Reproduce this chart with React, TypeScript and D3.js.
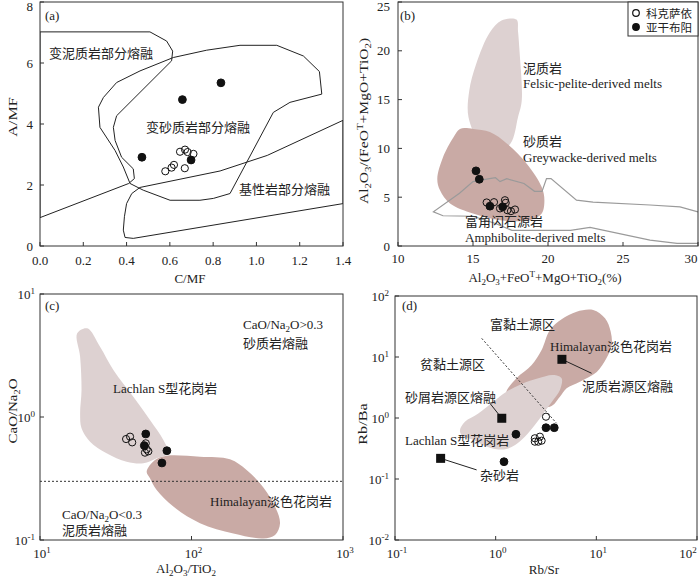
import React from 'react';
import * as d3 from 'd3';

type P = [number, number];

// ---------- panel (a) data : A/MF vs C/MF ----------
const aPelite: P[] = [[0, 7.02], [0.508, 7.02], [0.585, 6.72], [0.613, 6.39], [0.608, 6.07], [0.354, 4.27], [0.339, 3.89], [0.347, 3.46], [0.377, 2.91], [0.431, 2.53], [0.436, 2.21], [0.41, 2.05], [0, 0.93]];
const aGreywacke: P[] = [[0.354, 5.36], [0.462, 5.74], [0.616, 6.18], [0.77, 6.42], [0.924, 6.58], [1.094, 6.58], [1.217, 6.23], [1.291, 5.72], [1.302, 4.98], [1.155, 4.71], [1.078, 4.38], [0.878, 1.72], [0.801, 1.56], [0.739, 1.5], [0.601, 1.5], [0.477, 1.83], [0.416, 2.05], [0.385, 2.59], [0.347, 3.13], [0.277, 3.89], [0.27, 4.55], [0.293, 4.87]];
const aBasalt: P[] = [[0.462, 1.92], [0.832, 2.46], [1.05, 2.97], [1.4, 4.12], [1.4, 1.39], [0.431, 0.25], [0.393, 0.28], [0.385, 0.52], [0.39, 0.96], [0.4, 1.39], [0.424, 1.72]];
const aOpen: P[] = [[0.579, 2.45], [0.608, 2.57], [0.619, 2.66], [0.669, 2.55], [0.647, 3.09], [0.67, 3.16], [0.682, 3.08], [0.709, 3.02]];
const aFilled: P[] = [[0.836, 5.35], [0.658, 4.8], [0.471, 2.91], [0.698, 2.82]];
const aXTicks = [0, 0.2, 0.4, 0.6, 0.8, 1.0, 1.2, 1.4];
const aYTicks = [0, 2, 4, 6, 8];

// ---------- panel (b) data ----------
const bPelite: P[] = [[16.13, 21.9], [16.9, 23.1], [17.9, 23.2], [18.0, 22.0], [18.1, 20], [18.25, 14.9], [18.0, 13.2], [17.5, 10.5], [16.5, 9.5], [15.5, 10.5], [14.7, 13.2], [14.75, 15.9], [15.2, 18.6]];
const bGreywacke: P[] = [[14.13, 12.0], [15.02, 12.0], [16.13, 11.67], [17.25, 10.5], [18.58, 8.44], [19.58, 6.05], [19.76, 4.7], [19.58, 3.33], [18.8, 2.65], [16.8, 2.65], [15.0, 3.33], [13.47, 4.35], [12.8, 5.7], [12.62, 6.9], [13.0, 9.1], [13.7, 11.15]];
const bAmphibolite: P[] = [[30.5, 3.3], [30, 3.5], [28.8, 4.0], [26.8, 4.2], [23.0, 4.5], [21.9, 4.7], [20.2, 6.9], [19.9, 6.9], [19.6, 5.6], [19.1, 5.6], [18.4, 6.4], [17.25, 6.9], [16.8, 6.6], [16.5, 7.0], [16.1, 6.9], [15.0, 6.6], [14.1, 5.4], [12.36, 3.5], [13.0, 3.1], [15.0, 3.05], [16.5, 2.3], [17.6, 1.6], [21.5, 1.6], [22.8, 1.9], [26.8, 0.6], [28.6, 0.27], [30.5, 0.27]];
const bOpen: P[] = [[15.91, 4.46], [16.4, 4.49], [16.8, 3.85], [17.13, 4.69], [17.18, 4.42], [17.29, 3.67], [17.53, 3.57], [17.8, 3.74]];
const bFilled: P[] = [[15.2, 7.7], [15.42, 6.84], [16.13, 4.08], [16.98, 4.01]];
const bXTicks = [10, 15, 20, 25, 30];
const bYTicks = [0, 5, 10, 15, 20, 25];
const legendNames = ['科克萨依', '亚干布阳'];

// ---------- panel (c) data ----------
const cLachlan: P[] = [[17.6, 4.79], [20.5, 5.26], [24.9, 3.73], [30.5, 2.41], [41.3, 1.46], [53.2, 0.946], [65.2, 0.65], [70.3, 0.507], [58.9, 0.461], [48.1, 0.42], [37.3, 0.433], [27.5, 0.507], [21.4, 0.63], [18.8, 0.81], [18.4, 1.07], [18.8, 1.66], [18.4, 3.09]];
const cHimalayan: P[] = [[50.6, 0.359], [57.4, 0.447], [68.5, 0.484], [113.8, 0.475], [179.5, 0.453], [231, 0.371], [283, 0.289], [347, 0.199], [384, 0.137], [356, 0.11], [298, 0.103], [189, 0.113], [113.8, 0.137], [75.9, 0.187], [58.9, 0.255], [53.2, 0.318]];
const cOpen: P[] = [[37.0, 0.662], [39.3, 0.692], [40.6, 0.622], [49.9, 0.611], [50.6, 0.546], [49.3, 0.513], [51.9, 0.526]];
const cFilled: P[] = [[49.9, 0.728], [48.8, 0.586], [68.8, 0.532], [63.8, 0.423]];
const cThreshold = 0.3;
const cXTicks = [10, 100, 1000];
const cYTicks = [0.1, 1, 10];

// ---------- panel (d) data ----------
const dHimalayan: P[] = [[1.28, 2.54], [1.61, 4.48], [2.28, 7.4], [2.86, 13.0], [3.46, 27.7], [4.52, 41.5], [6.37, 55.3], [9.31, 58.9], [12.2, 43.1], [13.9, 26.0], [14.2, 15.7], [12.6, 9.5], [10.1, 5.7], [6.87, 3.94], [5.07, 3.07], [4.35, 2.23], [3.46, 1.53], [1.88, 1.97]];
const dLachlan: P[] = [[0.442, 0.635], [0.495, 0.869], [0.672, 1.19], [0.946, 1.85], [1.28, 2.7], [1.81, 3.61], [2.65, 4.48], [3.73, 5.07], [4.52, 4.48], [4.35, 2.88], [3.73, 1.97], [2.97, 1.19], [2.45, 0.767], [1.95, 0.494], [1.56, 0.361], [1.28, 0.31], [1.02, 0.307], [0.783, 0.348], [0.6, 0.436], [0.459, 0.526]];
const dDivider: P[] = [[0.727, 20.2], [4.03, 0.819]];
const dSquares: P[] = [[1.15, 0.99], [0.284, 0.218], [4.55, 9.16]];
const dLeaderEnds: P[] = [[0.877, 1.74], [0.647, 0.141], [8.97, 5.41]];
const dOpen: P[] = [[3.16, 1.05], [2.45, 0.465], [2.45, 0.409], [2.75, 0.494], [2.86, 0.425], [2.65, 0.409]];
const dFilled: P[] = [[1.59, 0.541], [1.21, 0.192], [3.16, 0.693], [3.82, 0.693]];
const dXTicks = [0.1, 1, 10, 100];
const dYTicks = [0.01, 0.1, 1, 10, 100];

// ---------- styling ----------
const FONT = "'Liberation Serif','Times New Roman','Noto Sans CJK SC',serif";
const LIGHT = '#ddd1d1';
const DARK = '#c9aaa5';
const AX = '#333';
const TXT = '#222';
const FS = 13;

type Frame = { l: number; r: number; t: number; b: number };
const FA: Frame = { l: 40, r: 343, t: 2, b: 246 };
const FB: Frame = { l: 398, r: 698, t: 2, b: 246 };
const FC: Frame = { l: 40, r: 343, t: 294, b: 540 };
const FD: Frame = { l: 395, r: 697, t: 296, b: 540 };

type Part = [string, number]; // 0 normal, 1 sub, 2 sup
function Rich({ parts, ...rest }: { parts: Part[]; [k: string]: any }) {
  let cur = 0;
  return (
    <text {...rest}>
      {parts.map(([s, k], i) => {
        const off = k === 1 ? 3 : k === 2 ? -5 : 0;
        const dy = off - cur;
        cur = off;
        return (
          <tspan key={i} dy={dy} fontSize={k ? 9 : undefined}>
            {s}
          </tspan>
        );
      })}
    </text>
  );
}

function pow10Parts(v: number): Part[] {
  return [['10', 0], [String(Math.round(Math.log10(v))), 2]];
}

function Frame({ f, xs, ys, xt, yt, xlab, ylab, xLabelY, yLabelX }: any) {
  return (
    <g>
      <rect x={f.l} y={f.t} width={f.r - f.l} height={f.b - f.t} fill="none" stroke={AX} strokeWidth={1} />
      {xt.map((v: number, i: number) => (
        <line key={'xt' + i} x1={xs(v)} x2={xs(v)} y1={f.b} y2={f.b - 4} stroke={AX} />
      ))}
      {yt.map((v: number, i: number) => (
        <line key={'yt' + i} x1={f.l} x2={f.l + 4} y1={ys(v)} y2={ys(v)} stroke={AX} />
      ))}
      {xt.map((v: number, i: number) => xlab(v, Math.min(xs(v), 691), xLabelY, i))}
      {yt.map((v: number, i: number) => ylab(v, yLabelX, Math.max(ys(v), 6), i))}
    </g>
  );
}

function Dots({ data, xs, ys, open }: { data: P[]; xs: any; ys: any; open?: boolean }) {
  return (
    <g>
      {data.map((d, i) => (
        <circle
          key={i}
          cx={xs(d[0])}
          cy={ys(d[1])}
          r={open ? 3.6 : 3.9}
          fill={open ? 'white' : '#111'}
          fillOpacity={open ? 0 : 1}
          stroke="#111"
          strokeWidth={1}
        />
      ))}
    </g>
  );
}

export default function App() {
  const xa = d3.scaleLinear().domain([0, 1.4]).range([FA.l, FA.r]);
  const ya = d3.scaleLinear().domain([0, 8]).range([FA.b, FA.t]);
  const xb = d3.scaleLinear().domain([10, 30]).range([FB.l, FB.r]);
  const yb = d3.scaleLinear().domain([0, 25]).range([FB.b, FB.t]);
  const xc = d3.scaleLog().domain([10, 1000]).range([FC.l, FC.r]);
  const yc = d3.scaleLog().domain([0.1, 10]).range([FC.b, FC.t]);
  const xd = d3.scaleLog().domain([0.1, 100]).range([FD.l, FD.r]);
  const yd = d3.scaleLog().domain([0.01, 100]).range([FD.b, FD.t]);

  const mk = (xs: any, ys: any, closed: boolean, smooth = false) =>
    d3
      .line<P>()
      .x((d) => xs(d[0]))
      .y((d) => ys(d[1]))
      .curve(closed ? (smooth ? d3.curveCatmullRomClosed.alpha(0.5) : d3.curveLinearClosed) : smooth ? d3.curveCatmullRom.alpha(0.5) : d3.curveLinear);

  const la = mk(xa, ya, true);
  const lbS = mk(xb, yb, true, true);
  const lbO = mk(xb, yb, false);
  const lcS = mk(xc, yc, true, true);
  const ldS = mk(xd, yd, true, true);
  const ldL = mk(xd, yd, false);

  const numLabX = (fmt: (v: number) => string) => (v: number, x: number, y: number, i: number) => (
    <text key={'xl' + i} x={x} y={y} textAnchor="middle" fontSize={FS} fill={TXT}>
      {fmt(v)}
    </text>
  );
  const numLabY = (fmt: (v: number) => string) => (v: number, x: number, y: number, i: number) => (
    <text key={'yl' + i} x={x} y={y + 4.5} textAnchor="end" fontSize={FS} fill={TXT}>
      {fmt(v)}
    </text>
  );
  const powLabX = (v: number, x: number, y: number, i: number) => (
    <Rich key={'px' + i} parts={pow10Parts(v)} x={Math.min(x + 2, 688)} y={y} textAnchor="middle" fontSize={FS} fill={TXT} />
  );
  const powLabY = (v: number, x: number, y: number, i: number) => (
    <Rich key={'py' + i} parts={pow10Parts(v)} x={x} y={y + 5} textAnchor="end" fontSize={FS} fill={TXT} />
  );

  const rot = (x: number, y: number, sx: number) => `translate(${x},${y}) rotate(-90) scale(${sx},1)`;

  return (
    <svg
      width={700}
      height={577}
      viewBox="0 0 700 577"
      style={{ position: 'absolute', left: 0, top: 0, background: 'white' }}
      fontFamily={FONT}
    >
      <defs>
        {[FA, FB, FC, FD].map((f, i) => (
          <clipPath id={'clip' + i} key={i}>
            <rect x={f.l} y={f.t} width={f.r - f.l} height={f.b - f.t} />
          </clipPath>
        ))}
      </defs>
      <rect x={0} y={0} width={700} height={577} fill="white" />

      {/* ---------------- (a) ---------------- */}
      <g clipPath="url(#clip0)" fill="none" stroke="#222" strokeWidth={1}>
        <path d={la(aPelite) || ''} />
        <path d={la(aGreywacke) || ''} />
        <path d={la(aBasalt) || ''} />
      </g>
      <Dots data={aOpen} xs={xa} ys={ya} open />
      <Dots data={aFilled} xs={xa} ys={ya} />
      <g fontSize={FS} fill={TXT}>
        <text x={45} y={20}>(a)</text>
        <text x={49} y={58}>变泥质岩部分熔融</text>
        <text x={146} y={132}>变砂质岩部分熔融</text>
        <text x={239} y={194}>基性岩部分熔融</text>
      </g>
      <Frame f={FA} xs={xa} ys={ya} xt={aXTicks} yt={aYTicks} xlab={numLabX((v) => v.toFixed(1))} ylab={numLabY((v) => String(v))} xLabelY={265} yLabelX={33} />
      <text x={190} y={283} textAnchor="middle" fontSize={FS} fill={TXT}>C/MF</text>
      <text transform={rot(17, 117, 1.25)} textAnchor="middle" fontSize={FS} fill={TXT}>A/MF</text>

      {/* ---------------- (b) ---------------- */}
      <g clipPath="url(#clip1)">
        <path d={lbS(bPelite) || ''} fill={LIGHT} stroke="none" />
        <path d={lbS(bGreywacke) || ''} fill={DARK} stroke="none" />
        <path d={lbO(bAmphibolite) || ''} fill="none" stroke="#9a9a9a" strokeWidth={1.2} />
      </g>
      <Dots data={bOpen} xs={xb} ys={yb} open />
      <Dots data={bFilled} xs={xb} ys={yb} />
      <g fontSize={FS} fill={TXT}>
        <text x={400} y={20}>(b)</text>
        <text x={523} y={73}>泥质岩</text>
        <text x={523} y={88}>Felsic-pelite-derived melts</text>
        <text x={523} y={146}>砂质岩</text>
        <text x={523} y={162}>Greywacke-derived melts</text>
        <text x={465} y={226}>富角闪石源岩</text>
        <text x={465} y={242}>Amphibolite-derived melts</text>
      </g>
      <Frame f={FB} xs={xb} ys={yb} xt={bXTicks} yt={bYTicks} xlab={numLabX((v) => String(v))} ylab={numLabY((v) => String(v))} xLabelY={263} yLabelX={390} />
      <g>
        <rect x={628} y={FB.t} width={FB.r - 628} height={34} fill="white" stroke={AX} strokeWidth={1} />
        {legendNames.map((n, i) => (
          <g key={n}>
            <circle cx={636} cy={13 + i * 14} r={3.3} fill={i === 0 ? 'white' : '#111'} stroke="#111" strokeWidth={1.2} />
            <text x={646} y={17.5 + i * 14} fontSize={11.5} fill={TXT}>{n}</text>
          </g>
        ))}
      </g>
      <Rich
        parts={[['Al', 0], ['2', 1], ['O', 0], ['3', 1], ['+FeO', 0], ['T', 2], ['+MgO+TiO', 0], ['2', 1], ['(%)', 0]]}
        x={545}
        y={282}
        textAnchor="middle"
        fontSize={FS}
        fill={TXT}
      />
      <Rich
        parts={[['Al', 0], ['2', 1], ['O', 0], ['3', 1], ['/(FeO', 0], ['T', 2], ['+MgO+TiO', 0], ['2', 1], [')', 0]]}
        transform={rot(368, 121, 1.2)}
        textAnchor="middle"
        fontSize={FS}
        fill={TXT}
      />

      {/* ---------------- (c) ---------------- */}
      <g clipPath="url(#clip2)">
        <path d={lcS(cLachlan) || ''} fill={LIGHT} stroke="none" />
        <path d={lcS(cHimalayan) || ''} fill={DARK} stroke="none" />
        <line x1={FC.l} x2={FC.r} y1={yc(cThreshold)} y2={yc(cThreshold)} stroke="#333" strokeDasharray="2,2" strokeWidth={1} />
      </g>
      <Dots data={cOpen} xs={xc} ys={yc} open />
      <Dots data={cFilled} xs={xc} ys={yc} />
      <g fontSize={FS} fill={TXT}>
        <text x={45} y={310}>(c)</text>
        <Rich parts={[['CaO/Na', 0], ['2', 1], ['O>0.3', 0]]} x={243} y={329} />
        <text x={243} y={348}>砂质岩熔融</text>
        <text x={113} y={393}>Lachlan S型花岗岩</text>
        <text x={210} y={506}>Himalayan淡色花岗岩</text>
        <Rich parts={[['CaO/Na', 0], ['2', 1], ['O<0.3', 0]]} x={62} y={519} />
        <text x={62} y={535}>泥质岩熔融</text>
      </g>
      <Frame f={FC} xs={xc} ys={yc} xt={cXTicks} yt={cYTicks} xlab={powLabX} ylab={powLabY} xLabelY={558} yLabelX={35} />
      <Rich parts={[['Al', 0], ['2', 1], ['O', 0], ['3', 1], ['/TiO', 0], ['2', 1]]} x={186} y={573} textAnchor="middle" fontSize={FS} fill={TXT} />
      <Rich parts={[['CaO/Na', 0], ['2', 1], ['O', 0]]} transform={rot(17, 411, 1.15)} textAnchor="middle" fontSize={FS} fill={TXT} />

      {/* ---------------- (d) ---------------- */}
      <g clipPath="url(#clip3)">
        <path d={ldS(dHimalayan) || ''} fill={DARK} stroke="none" />
        <path d={ldS(dLachlan) || ''} fill={LIGHT} stroke="none" />
        <path d={ldL(dDivider) || ''} fill="none" stroke="#333" strokeDasharray="2,2" strokeWidth={1} />
        {dSquares.map((s, i) => (
          <line key={i} x1={xd(s[0])} y1={yd(s[1])} x2={xd(dLeaderEnds[i][0])} y2={yd(dLeaderEnds[i][1])} stroke="#222" strokeWidth={1} />
        ))}
      </g>
      {dSquares.map((s, i) => (
        <rect key={i} x={xd(s[0]) - 4.5} y={yd(s[1]) - 4.5} width={9} height={9} fill="#111" />
      ))}
      <Dots data={dOpen} xs={xd} ys={yd} open />
      <Dots data={dFilled} xs={xd} ys={yd} />
      <g fontSize={FS} fill={TXT}>
        <text x={402} y={310}>(d)</text>
        <text x={490} y={329}>富黏土源区</text>
        <text x={420} y={369}>贫黏土源区</text>
        <text x={550} y={351}>Himalayan淡色花岗岩</text>
        <text x={582} y={391}>泥质岩源区熔融</text>
        <text x={405} y={402}>砂屑岩源区熔融</text>
        <text x={405} y={445}>Lachlan S型花岗岩</text>
        <text x={480} y={480}>杂砂岩</text>
      </g>
      <Frame f={FD} xs={xd} ys={yd} xt={dXTicks} yt={dYTicks} xlab={powLabX} ylab={powLabY} xLabelY={558} yLabelX={389} />
      <text x={544} y={574} textAnchor="middle" fontSize={FS} fill={TXT}>Rb/Sr</text>
      <text transform={rot(367, 424, 1.25)} textAnchor="middle" fontSize={FS} fill={TXT}>Rb/Ba</text>
    </svg>
  );
}
